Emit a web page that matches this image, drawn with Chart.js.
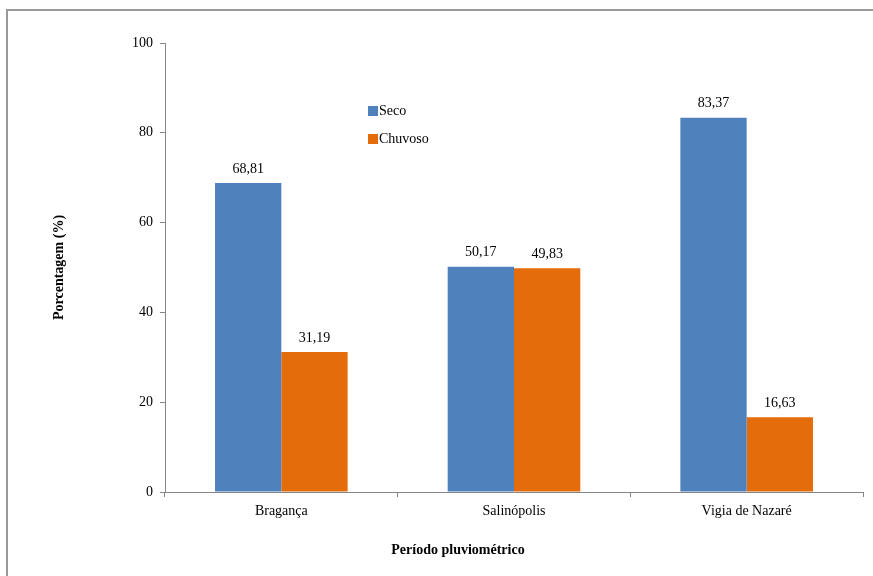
<!DOCTYPE html>
<html>
<head>
<meta charset="utf-8">
<script src="https://cdn.jsdelivr.net/npm/chart.js@4/dist/chart.umd.min.js"></script>
<style>
  html, body { margin: 0; padding: 0; background: #fff; }
  #wrap { width: 873px; height: 576px; position: relative; }
</style>
</head>
<body>
<div id="wrap"><canvas id="c" width="873" height="576"></canvas></div>
<script>
// Rainfall-period share per municipality
const categories = ['Bragança', 'Salinópolis', 'Vigia de Nazaré'];
const seriesNames = ['Seco', 'Chuvoso'];
const seco = [68.81, 50.17, 83.37];
const chuvoso = [31.19, 49.83, 16.63];
const yTicks = [0, 20, 40, 60, 80, 100];

const FONT = "'Liberation Serif', 'Times New Roman', serif";
const AXIS = '#868686';
const COLORS = ['#4F81BD', '#E46C0A'];

const fmt = v => v.toFixed(2).replace('.', ',');

// Outer frame, value labels, inset legend and x-axis title
const decor = {
  id: 'decor',
  beforeDraw(chart) {
    const ctx = chart.ctx;
    ctx.save();
    ctx.fillStyle = '#fff';
    ctx.fillRect(0, 0, chart.width, chart.height);
    ctx.strokeStyle = '#999999';
    ctx.lineWidth = 2;
    ctx.strokeRect(7, 10, chart.width + 20, chart.height + 20);
    ctx.restore();
  },
  afterDatasetsDraw(chart) {
    const ctx = chart.ctx;
    ctx.save();
    ctx.font = '14px ' + FONT;
    ctx.fillStyle = '#000';
    ctx.textAlign = 'center';
    ctx.textBaseline = 'bottom';
    chart.data.datasets.forEach((ds, i) => {
      chart.getDatasetMeta(i).data.forEach((bar, j) => {
        ctx.fillText(fmt(ds.data[j]), bar.x, bar.y - 7);
      });
    });
    // legend
    const lx = 368, ly = [111, 139];
    ctx.textAlign = 'left';
    ctx.textBaseline = 'middle';
    chart.data.datasets.forEach((ds, i) => {
      ctx.fillStyle = ds.backgroundColor;
      ctx.fillRect(lx, ly[i] - 5, 10, 10);
      ctx.fillStyle = '#000';
      ctx.fillText(ds.label, lx + 11, ly[i]);
    });
    // x-axis title
    ctx.font = 'bold 14px ' + FONT;
    ctx.textAlign = 'center';
    ctx.fillText('Período pluviométrico', 458, 550);
    ctx.restore();
  }
};

new Chart(document.getElementById('c'), {
  type: 'bar',
  data: {
    labels: categories,
    datasets: [
      { label: seriesNames[0], data: seco, backgroundColor: COLORS[0] },
      { label: seriesNames[1], data: chuvoso, backgroundColor: COLORS[1] }
    ]
  },
  options: {
    responsive: false,
    animation: false,
    devicePixelRatio: 1,
    layout: { padding: { top: 43, right: 10, bottom: 0, left: 0 } },
    datasets: { bar: { categoryPercentage: 0.57, barPercentage: 1.0 } },
    plugins: { legend: { display: false }, tooltip: { enabled: false } },
    scales: {
      x: {
        afterFit(s) { s.height = 84; },
        grid: { drawOnChartArea: false, drawTicks: true, tickLength: 5, color: AXIS, offset: true },
        border: { color: AXIS },
        ticks: { color: '#000', font: { family: FONT, size: 14 }, padding: 6 }
      },
      y: {
        min: 0, max: 100,
        afterFit(s) { s.width = 165; },
        afterBuildTicks(s) { s.ticks = yTicks.map(v => ({ value: v })); },
        grid: { drawOnChartArea: false, drawTicks: true, tickLength: 5, color: AXIS },
        border: { color: AXIS },
        ticks: { color: '#000', font: { family: FONT, size: 14 }, padding: 7 },
        title: {
          display: true, text: 'Porcentagem (%)', color: '#000',
          font: { family: FONT, size: 14, weight: 'bold' },
          padding: { top: 51, bottom: 0 }
        }
      }
    }
  },
  plugins: [decor]
});
</script>
</body>
</html>
